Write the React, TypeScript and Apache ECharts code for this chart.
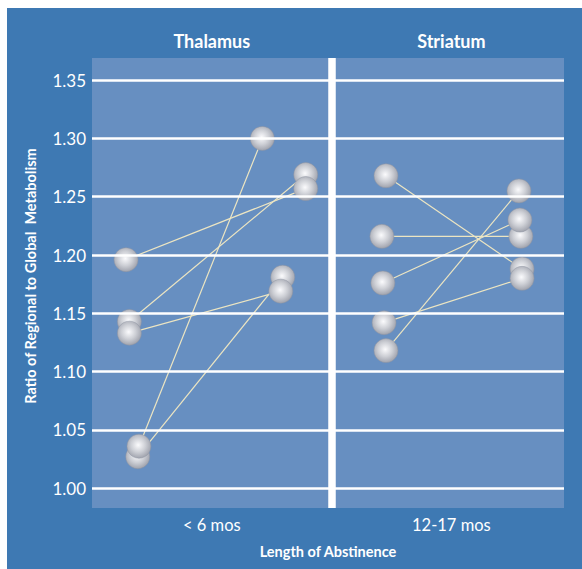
import React, { useEffect, useRef } from "react";
import * as echarts from "echarts";

// Axis texts
const regions = ["Thalamus", "Striatum"];
const abstinence = ["< 6 mos", "12-17 mos"];
const yTicks = [1.0, 1.05, 1.1, 1.15, 1.2, 1.25, 1.3, 1.35];
const categoryPositions = [1, 2];

// Thalamus: paired values (first point -> second point)
const thalamusFirst = [1.143, 1.196, 1.027, 1.133, 1.036];
const thalamusSecond = [1.269, 1.257, 1.181, 1.169, 1.300];
const thalamusFirstX = [0.656, 0.642, 0.691, 0.656, 0.696];
const thalamusSecondX = [1.392, 1.392, 1.296, 1.288, 1.211];

// Striatum: paired values (first point -> second point)
const striatumFirst = [1.216, 1.268, 1.176, 1.142, 1.118];
const striatumSecond = [1.216, 1.188, 1.230, 1.180, 1.255];
const striatumFirstX = [1.710, 1.727, 1.714, 1.719, 1.727];
const striatumSecondX = [2.290, 2.295, 2.286, 2.295, 2.282];

const PANEL_DIVIDER = 1.505;

const FONT = "Lato, 'Open Sans', sans-serif";

export default function App() {
  const ref = useRef<HTMLDivElement>(null);

  useEffect(() => {
    if (!ref.current) return;
    const chart = echarts.init(ref.current, null, { renderer: "svg" });

    const pairs: { a: number[]; b: number[] }[] = [];
    thalamusFirst.forEach((v, i) => {
      pairs.push({ a: [thalamusFirstX[i], v], b: [thalamusSecondX[i], thalamusSecond[i]] });
    });
    striatumFirst.forEach((v, i) => {
      pairs.push({ a: [striatumFirstX[i], v], b: [striatumSecondX[i], striatumSecond[i]] });
    });

    const pointData: number[][] = [];
    thalamusFirst.forEach((v, i) => pointData.push([thalamusFirstX[i], v]));
    thalamusSecond.forEach((v, i) => pointData.push([thalamusSecondX[i], v]));
    striatumFirst.forEach((v, i) => pointData.push([striatumFirstX[i], v]));
    striatumSecond.forEach((v, i) => pointData.push([striatumSecondX[i], v]));

    const sphere = {
      type: "radial",
      x: 0.47,
      y: 0.45,
      r: 0.6,
      colorStops: [
        { offset: 0, color: "#fbfbfd" },
        { offset: 0.5, color: "#cdcfd5" },
        { offset: 1, color: "#989ba6" },
      ],
    };

    const option: any = {
      animation: false,
      backgroundColor: "#3e79b3",
      grid: {
        left: 85,
        right: 18,
        top: 50,
        bottom: 61,
        show: true,
        backgroundColor: "#678fc1",
        borderWidth: 0,
      },
      xAxis: [
        {
          type: "value",
          position: "bottom",
          min: 0.5,
          max: 2.47,
          axisLine: { show: false },
          axisTick: { show: false },
          splitLine: { show: false },
          axisLabel: {
            customValues: categoryPositions,
            formatter: (v: number) => abstinence[Math.round(v) - 1] ?? "",
            color: "#ffffff",
            fontSize: 16.5,
            fontFamily: FONT,
            margin: 8,
          },
          name: "Length of Abstinence",
          nameLocation: "middle",
          nameGap: 36,
          nameTextStyle: {
            color: "#ffffff",
            fontSize: 14.5,
            fontWeight: "bold",
            fontFamily: FONT,
          },
        },
        {
          type: "value",
          position: "top",
          min: 0.5,
          max: 2.47,
          axisLine: { show: false },
          axisTick: { show: false },
          splitLine: { show: false },
          axisLabel: {
            customValues: categoryPositions,
            formatter: (v: number) => regions[Math.round(v) - 1] ?? "",
            color: "#ffffff",
            fontSize: 18,
            fontWeight: "bold",
            fontFamily: FONT,
            margin: 8,
          },
        },
      ],
      yAxis: {
        type: "value",
        min: 0.983,
        max: 1.369,
        axisLine: { show: false },
        axisTick: { show: false },
        splitLine: { show: false },
        axisLabel: {
          customValues: yTicks,
          formatter: (v: number) => v.toFixed(2),
          color: "#ffffff",
          fontSize: 17,
          fontFamily: FONT,
          margin: 6,
        },
      },
      graphic: [
        {
          type: "text",
          x: 23,
          y: 268,
          rotation: Math.PI / 2,
          style: {
            text: "Ratio of Regional to Global  Metabolism",
            fill: "#ffffff",
            font: `bold 14.5px ${FONT}`,
            textAlign: "center",
            textVerticalAlign: "middle",
          },
        },
      ],
      series: [
        {
          type: "line",
          data: [],
          z: 1,
          silent: true,
          markLine: {
            silent: true,
            symbol: "none",
            label: { show: false },
            lineStyle: { color: "#ffffff", width: 2.5, type: "solid" },
            data: [
              ...yTicks.map((t) => ({ yAxis: t })),
              { xAxis: PANEL_DIVIDER, lineStyle: { width: 7.5, color: "#ffffff" } },
            ],
          },
        },
        ...pairs.map((p) => ({
          type: "line",
          data: [p.a, p.b],
          z: 2,
          silent: true,
          symbol: "none",
          lineStyle: { color: "#ece5c2", width: 1.2 },
        })),
        {
          type: "scatter",
          data: pointData,
          z: 3,
          symbol: "circle",
          symbolSize: 24,
          itemStyle: {
            color: sphere,
            borderColor: "#8f94a2",
            borderWidth: 0.5,
            opacity: 1,
          },
        },
      ],
    };

    chart.setOption(option);
    return () => chart.dispose();
  }, []);

  return (
    <div
      ref={ref}
      style={{ position: "absolute", left: 7, top: 8, width: 575, height: 561 }}
    />
  );
}
